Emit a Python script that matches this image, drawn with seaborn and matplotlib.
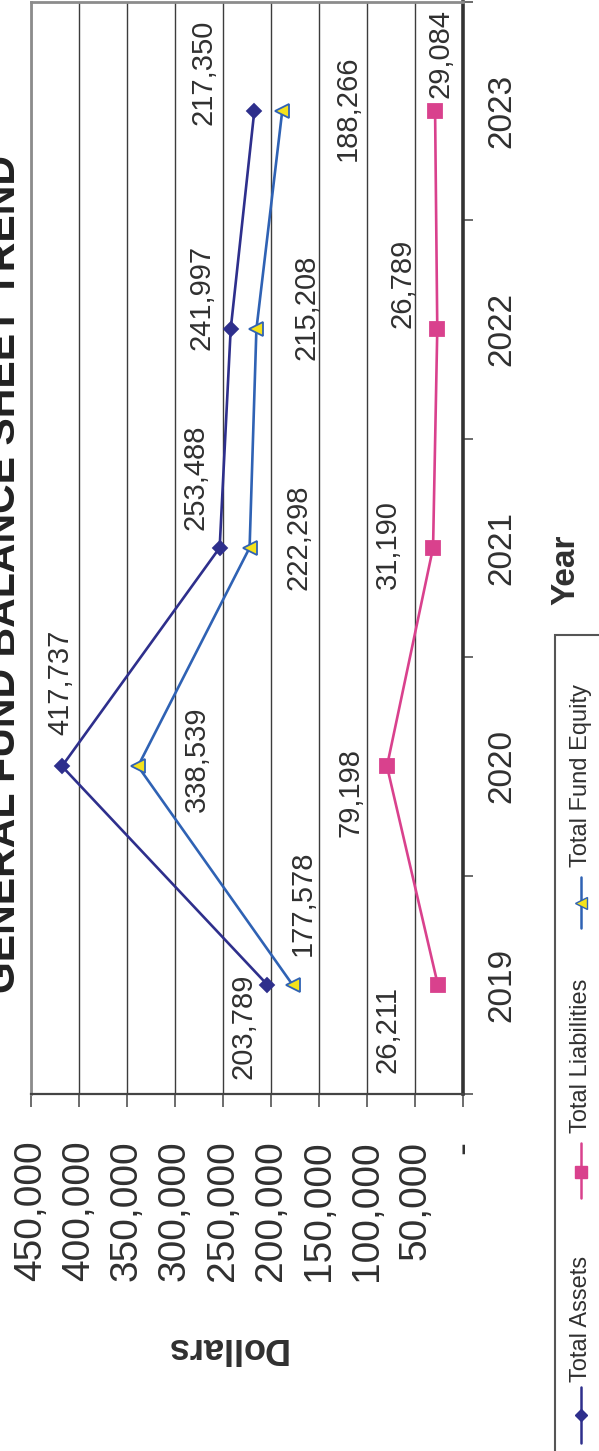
import matplotlib
matplotlib.use("Agg")
import matplotlib.pyplot as plt
from matplotlib.lines import Line2D
from matplotlib.patches import Rectangle
import pandas as pd
import seaborn as sns

# ---- data -------------------------------------------------------------
years = [2019, 2020, 2021, 2022, 2023]
total_assets = [203789, 417737, 253488, 241997, 217350]
total_liabilities = [26211, 79198, 31190, 26789, 29084]
total_fund_equity = [177578, 338539, 222298, 215208, 188266]
series_names = ["Total Assets", "Total Liabilities", "Total Fund Equity"]
value_ticks = [0, 50000, 100000, 150000, 200000, 250000, 300000, 350000, 400000, 450000]
value_tick_labels = ["-", "50,000", "100,000", "150,000", "200,000", "250,000",
                     "300,000", "350,000", "400,000", "450,000"]
chart_title = "GENERAL FUND BALANCE SHEET TREND"
value_axis_title = "Dollars"
year_axis_title = "Year"

# ---- styling ----------------------------------------------------------
styles = {
    "Total Assets": dict(color="#2E2F8C", marker="D", mfc="#2E2F8C", mec="#2E2F8C", ms=7.5),
    "Total Liabilities": dict(color="#D9418D", marker="s", mfc="#D9418D", mec="#D9418D", ms=10.5),
    "Total Fund Equity": dict(color="#2F62B4", marker="<", mfc="#F4E21C", mec="#2F62B4", ms=10.5),
}
# label offsets in pixels (right, down) relative to each point
label_offsets = {
    "Total Assets": [(-24, 42), (-2, -84), (-24, -71), (-29, -32), (-51, -38)],
    "Total Liabilities": [(-50, 45), (-36, 26), (-45, -3), (-35, -46), (5, -57)],
    "Total Fund Equity": [(10, -82), (59, -7), (49, -11), (50, -22), (65, -3)],
}
text_color = "#303030"

sns.set_theme(style="white")
plt.rcParams["font.family"] = ["Liberation Sans", "DejaVu Sans"]

W, H = 599, 1451
fig = plt.figure(figsize=(W / 100, H / 100), dpi=100)
fig.patch.set_facecolor("white")


def fx(px):
    return px / W


def fy(py):
    return 1 - py / H


ax = fig.add_axes([fx(31), fy(1094), (463 - 31) / W, (1094 - 1.5) / H])
ax.set_facecolor("white")

df = pd.DataFrame({
    "year": years * 3,
    "value": total_assets + total_liabilities + total_fund_equity,
    "series": [s for s in series_names for _ in years],
})

for name in series_names:
    st = styles[name]
    sub = df[df["series"] == name]
    sns.lineplot(data=sub, x="value", y="year", ax=ax, sort=False, estimator=None,
                 orient="y", color=st["color"], lw=1.9, marker=st["marker"],
                 markersize=st["ms"], markerfacecolor=st["mfc"],
                 markeredgecolor=st["mec"], markeredgewidth=1.3, zorder=3)
    for (yr, v), (dx, dy) in zip(zip(sub["year"], sub["value"]), label_offsets[name]):
        ax.annotate(f"{v:,}", xy=(v, yr), xytext=(dx, -dy), textcoords="offset pixels",
                    rotation=90, ha="center", va="center", fontsize=21,
                    color=text_color, zorder=4)

# value axis (drawn horizontally, increasing to the left)
ax.set_xlim(450000, 0)
ax.set_xticks(value_ticks)
ax.set_xticklabels(value_tick_labels, rotation=90, fontsize=28, color=text_color)
ax.tick_params(axis="x", which="major", bottom=True, direction="out", length=9.5,
               width=1.1, color="#444444", pad=24)
ax.grid(axis="x", color="#3c3c3c", lw=1.0)
ax.grid(axis="y", visible=False)

# year axis (vertical, on the right)
ax.set_ylim(2018.5, 2023.5)
ax.yaxis.tick_right()
ax.set_yticks(years)
ax.set_yticks([y + 0.5 for y in [2018] + years], minor=True)
ax.set_yticklabels([str(y) for y in years], rotation=90, fontsize=24, color=text_color,
                   va="center")
ax.tick_params(axis="y", which="major", right=True, length=0, pad=17)
ax.tick_params(axis="y", which="minor", right=True, direction="out", length=7.5,
               width=1.1, color="#444444")

for side in ("left", "top"):
    ax.spines[side].set_color("#8c8c8c")
    ax.spines[side].set_linewidth(2.0)
ax.spines["bottom"].set_color("#444444")
ax.spines["bottom"].set_linewidth(1.6)
ax.spines["right"].set_color("#333333")
ax.spines["right"].set_linewidth(2.6)

ax.set_xlabel(value_axis_title, rotation=180, fontsize=26, fontweight="bold",
              color=text_color, ha="center", va="center")
ax.xaxis.set_label_coords((226 - 31) / 432, -(1348 - 1094) / 1092.5)
ax.yaxis.set_label_position("right")
ax.set_ylabel(year_axis_title, rotation=90, fontsize=24, fontweight="bold",
              color=text_color, ha="center", va="center")
ax.yaxis.set_label_coords((566 - 31) / 432, (1094 - 570) / 1092.5)

# chart title along the left edge
fig.text(fx(23), fy(993), chart_title, rotation=90, ha="right", va="bottom",
         fontsize=29.5, fontweight="bold", color="#222222")

# legend box along the right edge
fig.add_artist(Rectangle((fx(555), fy(1490)), fx(80), fy(635) - fy(1490),
                         transform=fig.transFigure, fill=False, ec="#555555", lw=1.5))
legend_layout = {
    "Total Fund Equity": (928, 877, 903, 867),
    "Total Liabilities": (1198, 1143, 1172, 1133),
    "Total Assets": (1443, 1387, 1415, 1382),
}
for name in series_names:
    st = styles[name]
    y0, y1, ym, yt = legend_layout[name]
    fig.add_artist(Line2D([fx(581), fx(581)], [fy(y0), fy(y1)], transform=fig.transFigure,
                          color=st["color"], lw=1.8))
    fig.add_artist(Line2D([fx(581)], [fy(ym)], transform=fig.transFigure, marker=st["marker"],
                          ms=st["ms"] * 0.8, mfc=st["mfc"], mec=st["mec"], mew=1.0,
                          color=st["color"]))
    fig.text(fx(581), fy(yt), name, rotation=90, ha="center", va="bottom", fontsize=17,
             color=text_color)

fig.savefig("out.png", dpi=100, facecolor="white")
